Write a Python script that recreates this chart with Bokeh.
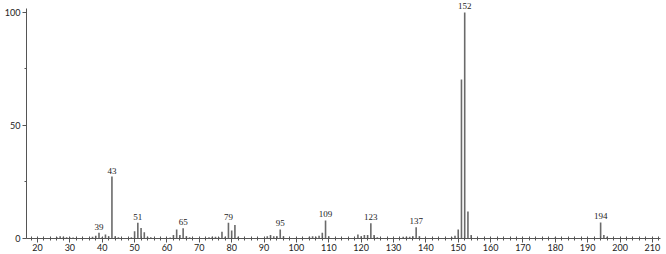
from bokeh.plotting import figure
from bokeh.models import ColumnDataSource, FixedTicker, Range1d, LabelSet
from bokeh.embed import file_html
from bokeh.resources import INLINE

# m/z values and relative intensities (%)
mz = [26, 27, 28, 29, 30, 31, 37, 38, 39, 40, 41, 42, 43, 44, 45,
      49, 50, 51, 52, 53, 54, 55, 61, 62, 63, 64, 65, 66, 67,
      73, 74, 75, 76, 77, 78, 79, 80, 81, 82,
      91, 92, 93, 94, 95, 96, 104, 105, 106, 107, 108, 109, 110,
      119, 120, 121, 122, 123, 124, 125, 133, 134, 135, 136, 137, 138,
      148, 149, 150, 151, 152, 153, 154, 180, 194, 195, 196]
intensity = [0.6, 1.0, 0.8, 0.6, 0.4, 0.4, 0.8, 1.2, 2.5, 0.6, 1.8, 1.0, 27.4, 1.0, 0.5,
             0.6, 3.2, 7.0, 4.6, 2.8, 0.8, 0.6, 0.4, 1.5, 4.0, 1.5, 4.5, 1.0, 0.6,
             0.5, 0.8, 0.8, 0.6, 3.0, 0.8, 7.0, 3.5, 6.0, 0.8,
             1.0, 1.6, 1.0, 1.0, 4.0, 1.0, 0.8, 1.0, 0.8, 1.2, 2.5, 8.0, 1.0,
             1.8, 1.0, 1.6, 1.6, 6.8, 1.6, 0.6, 0.8, 0.8, 0.8, 1.0, 5.0, 1.0,
             0.6, 1.2, 4.0, 70.4, 100.0, 11.9, 1.5, 0.4, 7.1, 1.5, 0.8]
label_mz = [39, 43, 51, 65, 79, 95, 109, 123, 137, 152, 194]

x_ticks = list(range(20, 211, 10))
x_minor = list(range(16, 213, 2))
y_ticks = [0, 50, 100]
y_minor = [25, 75]

lookup = dict(zip(mz, intensity))
label_y = [lookup[m] for m in label_mz]

p = figure(width=666, height=254, output_backend="svg", toolbar_location=None,
           x_range=Range1d(16.6, 212.5), y_range=Range1d(0, 105.3),
           min_border_left=26, min_border_right=6, min_border_top=0, min_border_bottom=16)
p.outline_line_color = None
p.xgrid.grid_line_color = None
p.ygrid.grid_line_color = None
p.background_fill_color = "white"
p.border_fill_color = "white"

src = ColumnDataSource(dict(x=mz, y=intensity, y0=[0] * len(mz)))
p.segment(x0="x", y0="y0", x1="x", y1="y", source=src, line_color="#6a6a6a", line_width=1.6)

lsrc = ColumnDataSource(dict(x=label_mz, y=label_y, t=[str(m) for m in label_mz]))
labels = LabelSet(x="x", y="y", text="t", source=lsrc, text_align="center", text_baseline="bottom",
                  y_offset=3, text_font="Lato", text_font_size="9px", text_color="#222222")
p.add_layout(labels)

xa = p.xaxis[0]
xa.ticker = FixedTicker(ticks=x_ticks, minor_ticks=x_minor)
xa.axis_line_color = "#555555"
xa.major_tick_line_color = "#555555"
xa.minor_tick_line_color = "#555555"
xa.major_tick_out = 4
xa.major_tick_in = 0
xa.minor_tick_out = 2
xa.minor_tick_in = 2
xa.major_label_standoff = 1
xa.major_label_text_font = "Lato"
xa.major_label_text_font_size = "9px"
xa.major_label_text_color = "#222222"

ya = p.yaxis[0]
ya.ticker = FixedTicker(ticks=y_ticks, minor_ticks=y_minor)
ya.bounds = (0, 101.8)
ya.axis_line_color = "#555555"
ya.major_tick_line_color = "#555555"
ya.minor_tick_line_color = "#555555"
ya.major_tick_out = 4
ya.major_tick_in = 0
ya.minor_tick_out = 2
ya.minor_tick_in = 0
ya.major_label_standoff = 2
ya.major_label_text_font = "Lato"
ya.major_label_text_font_size = "9px"
ya.major_label_text_color = "#222222"

open("out.html", "w").write(file_html(p, INLINE))
